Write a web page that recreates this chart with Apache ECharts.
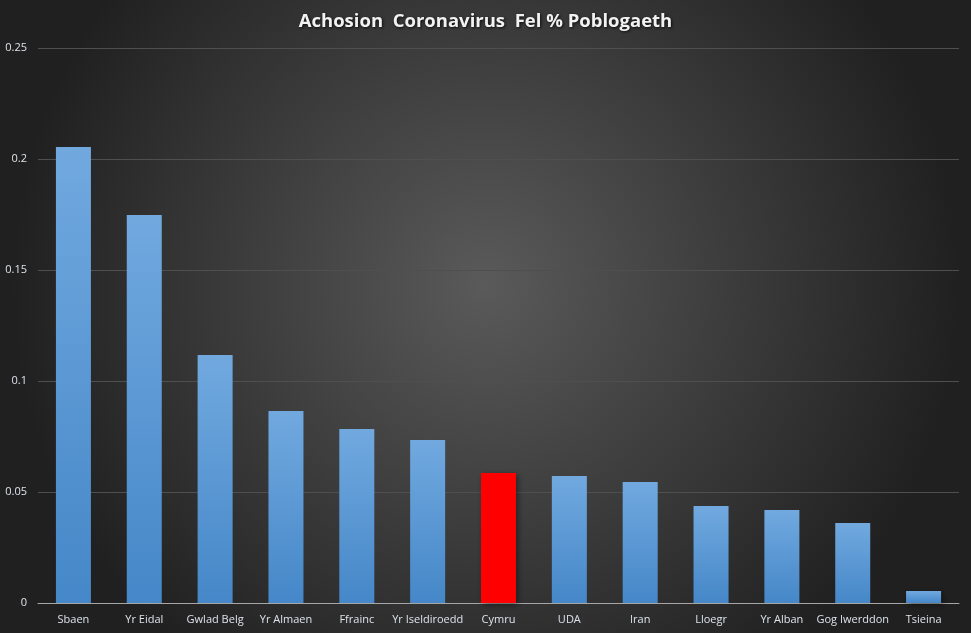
<!DOCTYPE html>
<html>
<head>
<meta charset="utf-8">
<script src="https://cdn.jsdelivr.net/npm/echarts@6/dist/echarts.min.js"></script>
<style>
  html, body { margin: 0; padding: 0; }
  #main { width: 971px; height: 633px; }
</style>
</head>
<body>
<div id="main"></div>
<script>
// gwledydd a chyfran yr achosion (% o'r boblogaeth)
const categories = ['Sbaen', 'Yr Eidal', 'Gwlad Belg', 'Yr Almaen', 'Ffrainc', 'Yr Iseldiroedd',
  'Cymru', 'UDA', 'Iran', 'Lloegr', 'Yr Alban', 'Gog Iwerddon', 'Tsieina'];
const values = [0.2054, 0.1748, 0.1117, 0.0865, 0.0784, 0.0734,
  0.0586, 0.0572, 0.0545, 0.0437, 0.0419, 0.036, 0.0054];
const highlight = 'Cymru';

const chart = echarts.init(document.getElementById('main'));

const blue = new echarts.graphic.LinearGradient(0, 0, 0, 1, [
  { offset: 0, color: '#71a9df' },
  { offset: 1, color: '#4587c8' }
]);

const option = {
  backgroundColor: new echarts.graphic.RadialGradient(0.5, 0.45, 0.75, [
    { offset: 0, color: '#5a5a5a' },
    { offset: 1, color: '#202020' }
  ]),
  title: {
    text: 'Achosion  Coronavirus  Fel % Poblogaeth',
    left: 'center',
    top: 7,
    textStyle: {
      color: '#f2f2f2',
      fontFamily: 'Open Sans',
      fontWeight: 'bold',
      fontSize: 18.5,
      textShadowColor: 'rgba(0,0,0,0.8)',
      textShadowBlur: 3,
      textShadowOffsetX: 1,
      textShadowOffsetY: 1
    }
  },
  grid: { left: 38, right: 12, top: 48, bottom: 30 },
  xAxis: {
    type: 'category',
    data: categories,
    axisTick: { show: false },
    axisLine: { lineStyle: { color: '#a6a6a6', width: 1 } },
    axisLabel: { color: '#dde3ea', fontFamily: 'Open Sans', fontSize: 11, margin: 11, interval: 0 }
  },
  yAxis: {
    type: 'value',
    min: 0,
    max: 0.25,
    interval: 0.05,
    axisLine: { show: false },
    axisTick: { show: false },
    axisLabel: { color: '#dde3ea', fontFamily: 'Open Sans', fontSize: 11, margin: 11 },
    splitLine: { lineStyle: { color: '#4f4f4f', width: 1 } }
  },
  series: [{
    type: 'bar',
    barWidth: 35,
    data: values.map((v, i) => ({
      value: v,
      itemStyle: { color: categories[i] === highlight ? '#ff0000' : blue }
    })),
    itemStyle: {
      shadowColor: 'rgba(0,0,0,0.45)',
      shadowBlur: 6,
      shadowOffsetX: 2,
      shadowOffsetY: 2
    }
  }]
};

chart.setOption(option);
</script>
</body>
</html>
